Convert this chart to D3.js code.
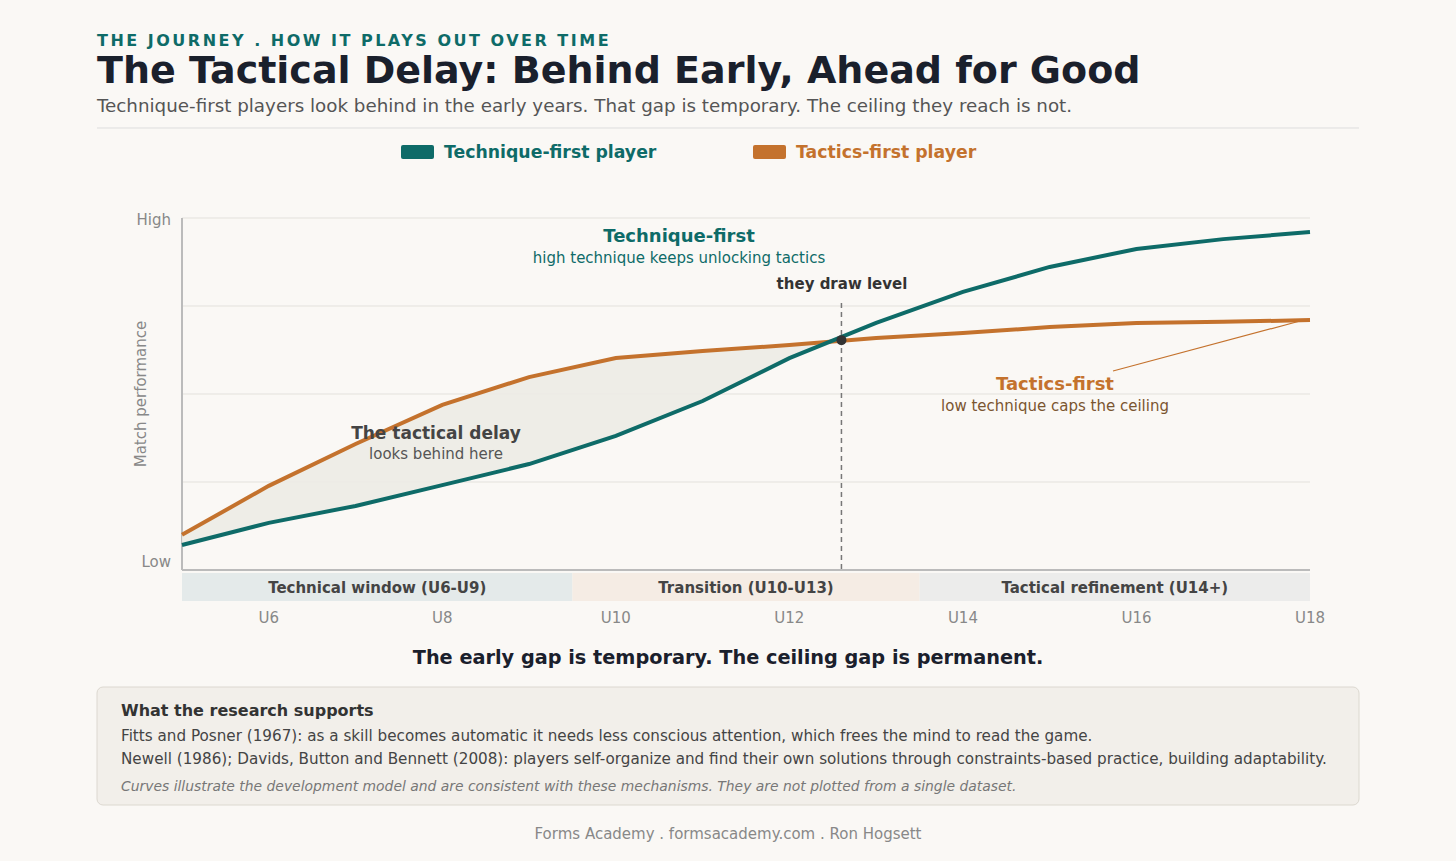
<!DOCTYPE html><html><head><meta charset="utf-8">
<script src="https://cdn.jsdelivr.net/npm/d3@7"></script>
<style>body{margin:0;background:#faf8f5;font-family:"DejaVu Sans",sans-serif}</style></head><body>
<svg id="c" width="1456" height="861"></svg>
<script>
const years=[5,6,7,8,9,10,11,12,13,14,15,16,17,18];
const technique=[7.1,13.4,18.2,24.1,30.1,38.1,48,60.2,70.2,79,86.1,91.2,94,96];
const tactics=[10,23.9,35.8,46.9,54.8,60.2,62.2,63.9,65.9,67.3,69,70.2,70.5,71];
const tickYears=[6,8,10,12,14,16,18];
const tickLabels=["U6","U8","U10","U12","U14","U16","U18"];
const bands=[{a:5,b:9.5,label:"Technical window (U6-U9)",fill:"#e4eaea"},{a:9.5,b:13.5,label:"Transition (U10-U13)",fill:"#f5ece4"},{a:13.5,b:18,label:"Tactical refinement (U14+)",fill:"#ececeb"}];
const cross={x:12.6,y:65.3};
const TEAL="#0e6b68",ORANGE="#c4722d";
const svg=d3.select("#c");
svg.append("rect").attr("width",1456).attr("height",861).attr("fill","#faf8f5");
const x=d3.scaleLinear().domain([5,18]).range([182,1310]);
const y=d3.scaleLinear().domain([0,100]).range([570,218]);
const T=(t,xx,yy,o)=>{const e=svg.append("text").attr("x",xx).attr("y",yy).text(t);for(const k in o)e.attr(k,o[k]);return e;};
T("THE JOURNEY . HOW IT PLAYS OUT OVER TIME",97,46,{fill:TEAL,"font-size":16,"font-weight":"bold","letter-spacing":2.5});
T("The Tactical Delay: Behind Early, Ahead for Good",97,83,{fill:"#1a202c","font-size":38,"font-weight":"bold"});
T("Technique-first players look behind in the early years. That gap is temporary. The ceiling they reach is not.",97,112,{fill:"#555","font-size":18.3});
svg.append("line").attr("x1",97).attr("x2",1359).attr("y1",128).attr("y2",128).attr("stroke","#ddd");
svg.append("rect").attr("x",401).attr("y",145).attr("width",33).attr("height",14).attr("rx",2).attr("fill",TEAL);
T("Technique-first player",444,158,{fill:TEAL,"font-size":17.3,"font-weight":"bold"});
svg.append("rect").attr("x",753).attr("y",145).attr("width",33).attr("height",14).attr("rx",2).attr("fill",ORANGE);
T("Tactics-first player",796,158,{fill:ORANGE,"font-size":17.3,"font-weight":"bold"});
[0,25,50,75,100].forEach(v=>svg.append("line").attr("x1",182).attr("x2",1310).attr("y1",y(v)).attr("y2",y(v)).attr("stroke","#e3e1dc"));
svg.append("line").attr("x1",182).attr("x2",182).attr("y1",218).attr("y2",570).attr("stroke","#bbb").attr("stroke-width",2);
svg.append("line").attr("x1",182).attr("x2",1310).attr("y1",570).attr("y2",570).attr("stroke","#bbb").attr("stroke-width",2);
T("High",171,225,{fill:"#888","font-size":15,"text-anchor":"end"});
T("Low",171,567,{fill:"#888","font-size":15,"text-anchor":"end"});
T("Match performance",146,394,{fill:"#888","font-size":15,"text-anchor":"middle",transform:"rotate(-90,146,394)"});
const idx=years.filter(v=>v<=12);
const ar=[...idx.map((v,i)=>({x:v,a:technique[i],b:tactics[i]})),{x:cross.x,a:cross.y,b:cross.y}];
svg.append("path").datum(ar).attr("fill","#ecebe5").attr("opacity",0.9)
 .attr("d",d3.area().x(d=>x(d.x)).y0(d=>y(d.a)).y1(d=>y(d.b)));
bands.forEach(b=>{svg.append("rect").attr("x",x(b.a)).attr("y",573).attr("width",x(b.b)-x(b.a)).attr("height",28).attr("fill",b.fill);
 T(b.label,(x(b.a)+x(b.b))/2,593,{fill:"#444","font-size":15,"font-weight":"bold","text-anchor":"middle"});});
tickYears.forEach((v,i)=>T(tickLabels[i],x(v),623,{fill:"#888","font-size":15,"text-anchor":"middle"}));
svg.append("line").attr("x1",x(cross.x)).attr("x2",x(cross.x)).attr("y1",303).attr("y2",570).attr("stroke","#777").attr("stroke-dasharray","5,4").attr("stroke-width",1.5);
const line=d3.line().x((d,i)=>x(years[i])).y(d=>y(d));
svg.append("path").datum(tactics).attr("d",line).attr("fill","none").attr("stroke",ORANGE).attr("stroke-width",4);
svg.append("path").datum(technique).attr("d",line).attr("fill","none").attr("stroke",TEAL).attr("stroke-width",4);
svg.append("circle").attr("cx",x(cross.x)).attr("cy",y(cross.y)).attr("r",5).attr("fill","#333");
T("they draw level",842,289,{fill:"#333","font-size":15,"font-weight":"bold","text-anchor":"middle"});
T("Technique-first",679,242,{fill:TEAL,"font-size":18,"font-weight":"bold","text-anchor":"middle"});
T("high technique keeps unlocking tactics",679,263,{fill:TEAL,"font-size":15,"text-anchor":"middle"});
T("The tactical delay",436,439,{fill:"#444","font-size":17,"font-weight":"bold","text-anchor":"middle"});
T("looks behind here",436,459,{fill:"#555","font-size":15,"text-anchor":"middle"});
T("Tactics-first",1055,390,{fill:ORANGE,"font-size":18,"font-weight":"bold","text-anchor":"middle"});
T("low technique caps the ceiling",1055,411,{fill:"#7a5530","font-size":15,"text-anchor":"middle"});
svg.append("line").attr("x1",1113).attr("y1",371).attr("x2",1300).attr("y2",321).attr("stroke",ORANGE).attr("stroke-width",1.2);
T("The early gap is temporary. The ceiling gap is permanent.",728,664,{fill:"#1a202c","font-size":19.3,"font-weight":"bold","text-anchor":"middle"});
svg.append("rect").attr("x",97).attr("y",687).attr("width",1262).attr("height",118).attr("rx",6).attr("fill","#f2efea").attr("stroke","#dcd8d0");
T("What the research supports",121,716,{fill:"#333","font-size":16,"font-weight":"bold"});
T("Fitts and Posner (1967): as a skill becomes automatic it needs less conscious attention, which frees the mind to read the game.",121,741,{fill:"#444","font-size":15.2});
T("Newell (1986); Davids, Button and Bennett (2008): players self-organize and find their own solutions through constraints-based practice, building adaptability.",121,764,{fill:"#444","font-size":15.2});
T("Curves illustrate the development model and are consistent with these mechanisms. They are not plotted from a single dataset.",121,791,{fill:"#777","font-size":13.9,"font-style":"italic"});
T("Forms Academy . formsacademy.com . Ron Hogsett",728,839,{fill:"#888","font-size":15,"text-anchor":"middle"});
</script></body></html>
